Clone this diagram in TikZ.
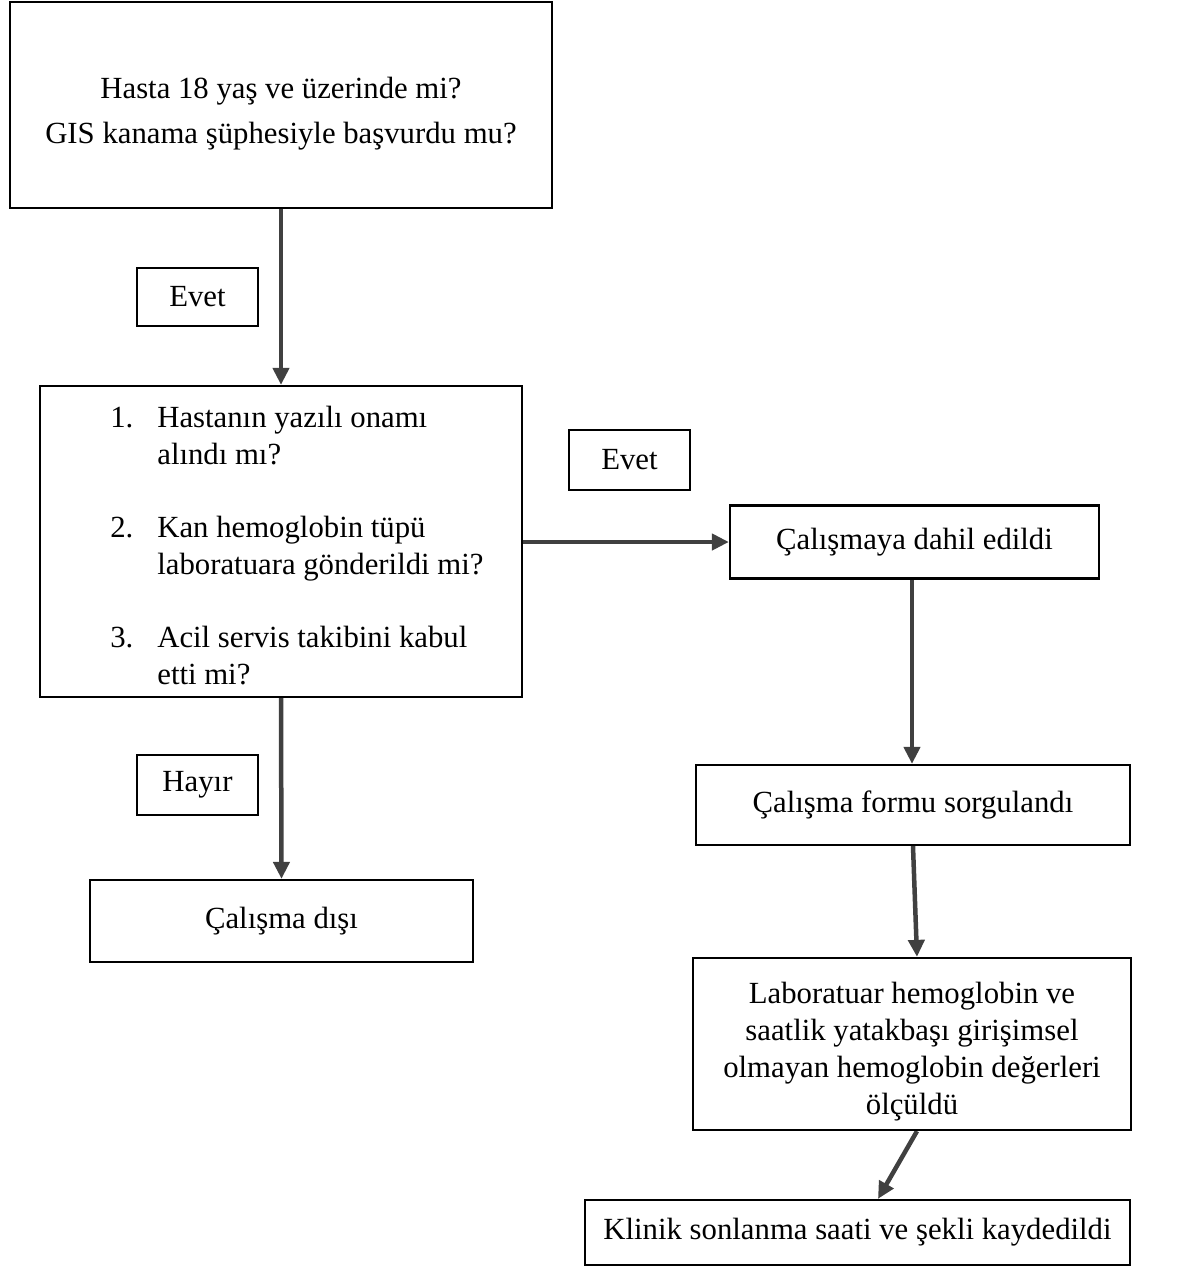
\documentclass[tikz,border=0pt]{standalone}
\usepackage{fontspec}
\setmainfont{Liberation Serif}
\usepackage{tikz}
\usetikzlibrary{arrows.meta}
\usetikzlibrary{shapes.geometric}
\pgfdeclarelayer{edgelayer}
\pgfdeclarelayer{nodelayer}
\pgfsetlayers{edgelayer,nodelayer,main}
\definecolor{arrowgray}{RGB}{64,64,64}
\tikzstyle{none}=[inner sep=0pt, font=\fontsize{17.5}{21}\selectfont]
\tikzstyle{box}=[draw=black, fill=white, line width=0.045cm, rectangle, inner sep=0pt, align=center, font=\fontsize{17.5}{21}\selectfont]
\tikzstyle{tag}=[box, minimum width=2.42cm]
\tikzstyle{arrow}=[draw=arrowgray, line width=0.09cm, -{Triangle[length=0.34cm,width=0.32cm]}]

\begin{document}
\begin{tikzpicture}
	\useasboundingbox (0, 0) rectangle (23.8, -25.56);
	\begin{pgfonlayer}{nodelayer}
		\node [style=box, minimum width=10.84cm, minimum height=4.12cm] (0) at (5.62, -2.1) {};
		\node [style=none, align=center] (1) at (5.62, -2.27) {Hasta 18 yaş ve üzerinde mi?\\[4.6pt]GIS kanama şüphesiyle başvurdu mu?};
		\node [style=tag, minimum height=1.16cm] (2) at (3.95, -5.94) {Evet};
		\node [style=box, minimum width=9.64cm, minimum height=6.22cm] (3) at (5.62, -10.83) {};
		\node [style=none, anchor=west] (4) at (2.2, -10.97) {%
			\begin{tabular}{@{}p{0.94cm}@{}l@{}}
				1. & Hastanın yazılı onamı\\
				   & alındı mı?\\[20.5pt]
				2. & Kan hemoglobin tüpü\\
				   & laboratuara gönderildi mi?\\[20.5pt]
				3. & Acil servis takibini kabul\\
				   & etti mi?
			\end{tabular}};
		\node [style=tag, minimum height=1.2cm] (5) at (12.59, -9.2) {Evet};
		\node [style=box, minimum width=7.38cm, minimum height=1.46cm] (6) at (18.29, -10.84) {Çalışmaya dahil edildi};
		\node [style=box, minimum width=8.68cm, minimum height=1.6cm] (7) at (18.26, -16.1) {Çalışma formu sorgulandı};
		\node [style=box, minimum width=8.76cm, minimum height=3.44cm] (8) at (18.24, -20.88) {};
		\node [style=none, align=center] (9) at (18.24, -21.03) {Laboratuar hemoglobin ve\\saatlik yatakbaşı girişimsel\\olmayan hemoglobin değerleri\\ölçüldü};
		\node [style=box, minimum width=10.9cm, minimum height=1.3cm] (10) at (17.15, -24.65) {Klinik sonlanma saati ve şekli kaydedildi};
		\node [style=tag, minimum height=1.2cm] (11) at (3.95, -15.7) {Hayır};
		\node [style=box, minimum width=7.66cm, minimum height=1.64cm] (12) at (5.63, -18.42) {Çalışma dışı};
	\end{pgfonlayer}
	\begin{pgfonlayer}{edgelayer}
		\draw [style=arrow] (0.south) to (3.north);
		\draw [style=arrow] (6.west -| 3.east) to (6.west);
		\draw [style=arrow] ([xshift=-0.05cm]6.south) to ([xshift=-0.05cm]6.south |- 7.north);
		\draw [style=arrow] (7.south) to ([xshift=0.1cm]8.north);
		\draw [style=arrow] ([xshift=0.1cm]8.south) to ([xshift=0.41cm]10.north);
		\draw [style=arrow] (3.south) to (12.north);
	\end{pgfonlayer}
\end{tikzpicture}
\end{document}
